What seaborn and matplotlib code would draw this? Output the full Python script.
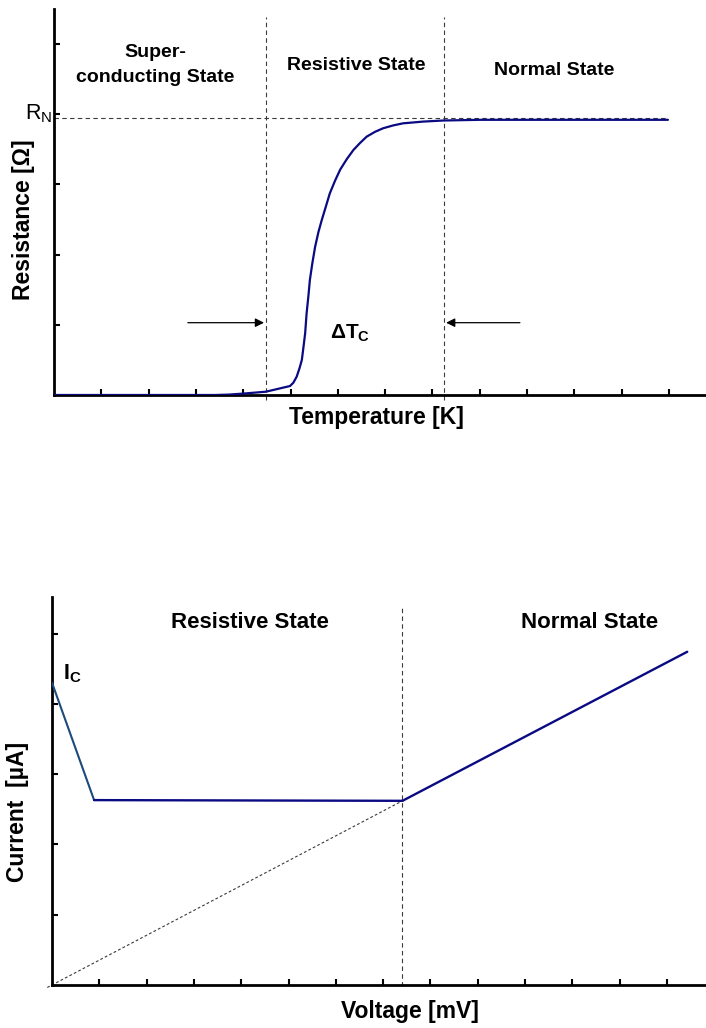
import matplotlib
matplotlib.use("Agg")
import matplotlib.pyplot as plt
import seaborn as sns

# --- Resistance vs. temperature (superconducting transition) ---
temperature_k = [0.0, 1.0, 2.0, 3.0, 3.4, 3.7, 4.0, 4.48, 4.99, 5.06, 5.13,
                 5.19, 5.24, 5.27, 5.31, 5.34, 5.38, 5.41, 5.46, 5.52, 5.59,
                 5.66, 5.75, 5.83, 5.94, 6.05, 6.19, 6.33, 6.47, 6.61, 6.79,
                 6.96, 7.17, 7.38, 7.81, 8.23, 9.0, 10.0, 11.0, 12.0, 12.98]
resistance_ohm = [0.0, 0.0, 0.0, 0.0, 0.0, 0.006, 0.02, 0.047, 0.128, 0.175,
                  0.26, 0.38, 0.50, 0.66, 0.88, 1.16, 1.42, 1.64, 1.87, 2.11,
                  2.32, 2.49, 2.69, 2.87, 3.05, 3.21, 3.36, 3.49, 3.59, 3.68,
                  3.75, 3.80, 3.84, 3.87, 3.895, 3.91, 3.92, 3.92, 3.92, 3.92,
                  3.92]
r_normal = 3.94
tc_onset = 4.48
tc_end = 8.25

# --- Current vs. voltage ---
voltage_drop = [0.0, 0.89]
current_drop = [4.30, 2.63]
voltage_resistive = [0.89, 7.41]
current_resistive = [2.63, 2.62]
voltage_normal = [7.41, 13.43]
current_normal = [2.62, 4.74]
voltage_ohmic = [-0.1, 7.41]
current_ohmic = [-0.035, 2.62]
v_transition = 7.41

sns.set_theme(style="white")
plt.rcParams["font.family"] = ["Liberation Sans", "DejaVu Sans"]
plt.rcParams["text.color"] = "black"
plt.rcParams["axes.labelcolor"] = "black"
plt.rcParams["mathtext.fontset"] = "custom"
plt.rcParams["mathtext.rm"] = "Liberation Sans"
plt.rcParams["mathtext.bf"] = "Liberation Sans:bold"
plt.rcParams["mathtext.it"] = "Liberation Sans:italic"

W, H = 706, 1028
fig = plt.figure(figsize=(W / 100, H / 100), dpi=100)

NAVY = "#0a0a82"
STEEL = "#1d4a7c"
DASH_COL = "#3a3a3a"


def style_axes(ax, xmax, ymax):
    ax.set_xlim(0, xmax)
    ax.set_ylim(0, ymax)
    for side in ("top", "right"):
        ax.spines[side].set_visible(False)
    for side in ("left", "bottom"):
        ax.spines[side].set_linewidth(2.0)
        ax.spines[side].set_color("black")
    ax.set_xticks(range(1, 14))
    ax.set_yticks(range(1, 6))
    ax.tick_params(axis="both", direction="in", length=4, width=1.5,
                   color="black", labelbottom=False, labelleft=False,
                   bottom=True, left=True)
    ax.set_facecolor("white")


def axis_titles(ax, xlabel, xpos, ylabel, ypos):
    ax.text(*xpos, xlabel, transform=ax.transAxes, fontsize=16.5,
            fontweight="bold", ha="center", va="center")
    ax.text(*ypos, ylabel, transform=ax.transAxes, fontsize=16.5,
            fontweight="bold", ha="center", va="center", rotation=90)


# ---------------- top panel ----------------
ax1 = fig.add_axes([54 / W, 1 - 395 / H, (W - 54) / W, 386 / H])
style_axes(ax1, (W - 54) / 47.3, 386 / 70.2)

ax1.plot([0, 12.98], [r_normal, r_normal], color=DASH_COL, lw=0.8,
         ls=(0, (4, 3)), zorder=1)
ax1.vlines([tc_onset, tc_end], -0.07, 5.39, colors=DASH_COL, lw=0.8,
           linestyles=(0, (4, 3)), clip_on=False, zorder=1)

sns.lineplot(x=temperature_k, y=resistance_ohm, ax=ax1, color=NAVY, lw=1.6,
             sort=False, estimator=None, zorder=3)

arrow_kw = dict(arrowstyle="-|>", color="black", lw=0.9, mutation_scale=13,
                shrinkA=0, shrinkB=0)
ax1.annotate("", xy=(tc_onset - 0.04, 1.03), xytext=(2.83, 1.03),
             arrowprops=arrow_kw)
ax1.annotate("", xy=(tc_end + 0.04, 1.03), xytext=(9.85, 1.03),
             arrowprops=arrow_kw)
ax1.text(6.26, 0.88, r"$\mathbf{\Delta T}_\mathbf{C}$", fontsize=15,
         ha="center", va="center")

ax1.text(-0.04, r_normal - 0.01, r"$\mathrm{R}_\mathrm{N}$", fontsize=15.5,
         ha="right", va="baseline")

ax1.text(2.14, 4.70, "Super-\nconducting State", fontsize=14,
         fontweight="bold", ha="center", va="center", multialignment="center",
         linespacing=1.55)
ax1.text(6.38, 4.70, "Resistive State", fontsize=14, fontweight="bold",
         ha="center", va="center")
ax1.text(10.57, 4.62, "Normal State", fontsize=14, fontweight="bold",
         ha="center", va="center")

axis_titles(ax1, "Temperature [K]", ((376 - 54) / (W - 54), -0.057),
            "Resistance [Ω]", (-0.0475, (395 - 220) / 386))

# ---------------- bottom panel ----------------
ax2 = fig.add_axes([52 / W, 1 - 985 / H, (W - 52) / W, 388 / H])
style_axes(ax2, (W - 52) / 47.3, 388 / 70.3)

ax2.plot(voltage_ohmic, current_ohmic, color=DASH_COL, lw=0.8,
         ls=(0, (2.5, 2)), clip_on=False, zorder=1)
ax2.vlines([v_transition], -0.02, 5.36, colors=DASH_COL, lw=0.8,
           linestyles=(0, (4, 3)), clip_on=False, zorder=1)

sns.lineplot(x=voltage_drop, y=current_drop, ax=ax2, color=STEEL, lw=1.5,
             sort=False, estimator=None, zorder=3)
sns.lineplot(x=voltage_resistive, y=current_resistive, ax=ax2, color=NAVY,
             lw=1.7, sort=False, estimator=None, zorder=3)
sns.lineplot(x=voltage_normal, y=current_normal, ax=ax2, color=NAVY, lw=1.7,
             sort=False, estimator=None, zorder=3)

ax2.text(0.24, 4.34, r"$\mathbf{I}_\mathbf{C}$", fontsize=15.5, ha="left",
         va="baseline")
ax2.text(4.19, 5.15, "Resistive State", fontsize=16, fontweight="bold",
         ha="center", va="center")
ax2.text(11.36, 5.16, "Normal State", fontsize=16, fontweight="bold",
         ha="center", va="center")

axis_titles(ax2, "Voltage [mV]", ((410 - 52) / (W - 52), -0.069),
            "Current  [µA]", ((18 - 52) / (W - 52), (985 - 812) / 388))

fig.savefig("out.png", dpi=100, facecolor="white")
